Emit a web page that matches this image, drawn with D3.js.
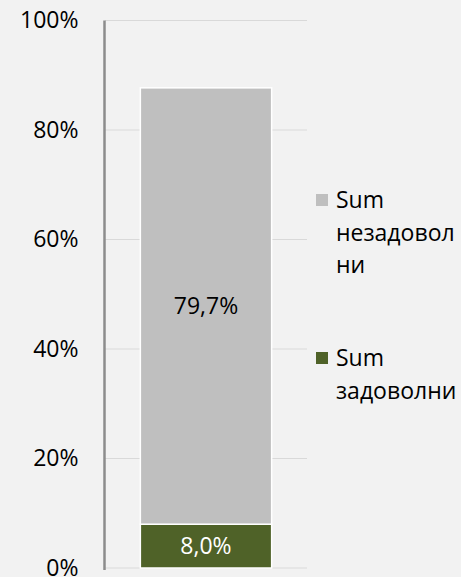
<!DOCTYPE html>
<html>
<head>
<meta charset="utf-8">
<script src="https://cdn.jsdelivr.net/npm/d3@7"></script>
<style>
  body { margin: 0; background: #f2f2f2; }
  text { font-family: "Open Sans", sans-serif; }
</style>
</head>
<body>
<div class="container"></div>
<script>
// Data
var categories = ["Total"];
var seriesNames = ["Sum задоволни", "Sum незадоволни"];
var legendLines = [["Sum", "задоволни"], ["Sum", "незадовол", "ни"]];
var seriesColors = ["#4f6228", "#bfbfbf"];
var zadovolni = [0.080];
var nezadovolni = [0.797];
var tickValues = [0, 0.2, 0.4, 0.6, 0.8, 1.0];

var svgWidth = 461;
var svgHeight = 577;

var svg = d3.select(".container")
  .append("svg")
  .attr("width", svgWidth)
  .attr("height", svgHeight);

svg.append("rect")
  .attr("width", svgWidth)
  .attr("height", svgHeight)
  .attr("fill", "#f2f2f2");

// scales
var yScale = d3.scaleLinear()
  .domain([0, 1])
  .range([568, 20.5]);

var xScale = d3.scaleBand()
  .domain(categories)
  .range([105, 307])
  .paddingInner(0.35)
  .paddingOuter(0.17);

// gridlines
svg.append("g")
  .selectAll("line")
  .data(tickValues)
  .enter()
  .append("line")
  .attr("x1", 105)
  .attr("x2", 307)
  .attr("y1", d => yScale(d))
  .attr("y2", d => yScale(d))
  .attr("stroke", "#d9d9d9")
  .attr("stroke-width", 1.2);

// y axis
var leftAxis = d3.axisLeft(yScale)
  .tickValues(tickValues)
  .tickFormat(d3.format(".0%"))
  .tickSize(0)
  .tickPadding(26);

var yAxis = svg.append("g")
  .attr("transform", "translate(104.5,0)")
  .call(leftAxis);

yAxis.select(".domain")
  .attr("stroke", "#8c8c8c")
  .attr("stroke-width", 2.5)
  .attr("d", `M0,${yScale(1)}V${yScale(0) + 2}`);

yAxis.selectAll("text")
  .attr("fill", "#000")
  .style("font-size", "23px")
  .style("font-family", "'Open Sans', sans-serif");

// stacked bars
var stackData = categories.map((c, i) => ({ cat: c, zad: zadovolni[i], nez: nezadovolni[i] }));
var stack = d3.stack().keys(["zad", "nez"]);
var layers = stack(stackData);

var fmt = v => d3.format(".1%")(v).replace(".", ",");

layers.forEach(function(layer, li) {
  var g = svg.append("g");
  g.selectAll("rect")
    .data(layer)
    .enter()
    .append("rect")
    .attr("x", d => xScale(d.data.cat))
    .attr("width", xScale.bandwidth())
    .attr("y", d => yScale(d[1]))
    .attr("height", d => yScale(d[0]) - yScale(d[1]))
    .attr("fill", seriesColors[li])
    .attr("stroke", "#ffffff")
    .attr("stroke-width", 1.5);

  g.selectAll("text")
    .data(layer)
    .enter()
    .append("text")
    .attr("x", d => xScale(d.data.cat) + xScale.bandwidth() / 2)
    .attr("y", d => (yScale(d[0]) + yScale(d[1])) / 2)
    .attr("dy", "0.35em")
    .attr("text-anchor", "middle")
    .attr("fill", li === 0 ? "#ffffff" : "#000000")
    .style("font-size", "23px")
    .text(d => fmt(d[1] - d[0]));
});

// legend
var legendTop = [208, 366];
var legendOrder = [1, 0];
legendOrder.forEach(function(si, k) {
  var g = svg.append("g");
  g.append("rect")
    .attr("x", 316)
    .attr("y", legendTop[k] - 14)
    .attr("width", 12)
    .attr("height", 12)
    .attr("fill", seriesColors[si]);
  g.append("text")
    .attr("x", 336)
    .attr("y", legendTop[k])
    .style("font-size", "23px")
    .attr("fill", "#000")
    .selectAll("tspan")
    .data(legendLines[si])
    .enter()
    .append("tspan")
    .attr("x", 336)
    .attr("dy", (d, i) => i === 0 ? 0 : 32.5)
    .text(d => d);
});
</script>
</body>
</html>
